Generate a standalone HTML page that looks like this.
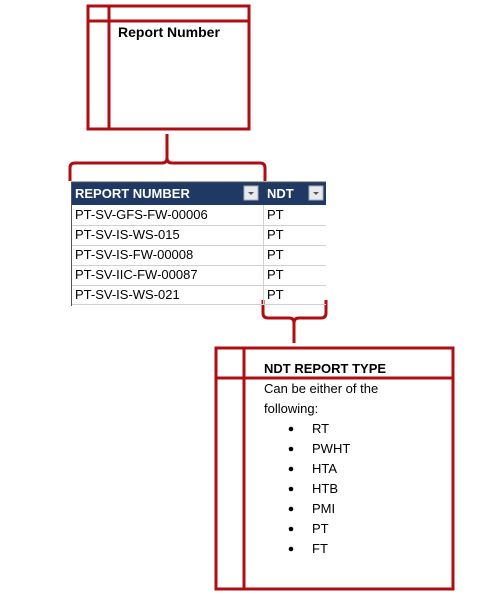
<!DOCTYPE html>
<html><head><style>
body{margin:0;width:498px;height:612px;background:#fff;position:relative;font-family:"Liberation Sans",Calibri,sans-serif;overflow:hidden}
.t{position:absolute;font-size:13px;color:#000;white-space:nowrap}
.b{font-weight:bold}
</style></head><body>
<svg width="498" height="612" style="position:absolute;left:0;top:0">
<g fill="none" stroke="#b00d12" stroke-width="3">
<rect x="88" y="6" width="161" height="123"/>
<line x1="109" y1="6" x2="109" y2="129"/>
<line x1="88" y1="21" x2="249" y2="21"/>
<path d="M70 181 V168 Q70 163 75 163 H162 Q167 163 167 158 V134 M167 158 Q167 163 172 163 H260 Q265 163 265 168 V181"/>
<path d="M263 300 V313 Q263 318 268 318 H289 Q294 318 294 323 V343 M294 323 Q294 318 299 318 H321 Q326 318 326 313 V300"/>
<rect x="216" y="348" width="237" height="241"/>
<line x1="244" y1="348" x2="244" y2="589"/>
<line x1="216" y1="378" x2="453" y2="378"/>
</g>
<rect x="71" y="182" width="255" height="23" fill="#1f3864"/>
<line x1="71" y1="182" x2="326" y2="182" stroke="#555" stroke-width="1"/>
<rect x="244" y="186" width="14" height="14" fill="#e6e9ee" stroke="#aaa"/>
<path d="M248 192 h6 l-3 3z" fill="#555"/>
<rect x="309" y="186" width="14" height="14" fill="#e6e9ee" stroke="#aaa"/>
<path d="M313 192 h6 l-3 3z" fill="#555"/>
<g stroke="#d0d0d0" stroke-width="1">
<line x1="71" y1="225.5" x2="326" y2="225.5"/><line x1="71" y1="245.5" x2="326" y2="245.5"/>
<line x1="71" y1="265.5" x2="326" y2="265.5"/><line x1="71" y1="285.5" x2="326" y2="285.5"/>
<line x1="71" y1="304.5" x2="326" y2="304.5"/>
<line x1="263.5" y1="205" x2="263.5" y2="305"/>
</g>
<line x1="71.5" y1="182" x2="71.5" y2="306" stroke="#555"/>
<g fill="#000"><circle cx="291" cy="429" r="2.3"/><circle cx="291" cy="449" r="2.3"/><circle cx="291" cy="469" r="2.3"/><circle cx="291" cy="489" r="2.3"/><circle cx="291" cy="509" r="2.3"/><circle cx="291" cy="529" r="2.3"/><circle cx="291" cy="549" r="2.3"/></g>
</svg>
<div class="t b" style="left:118px;top:24px;font-size:14px">Report Number</div>
<div class="t b" style="left:75px;top:186px;color:#fff">REPORT NUMBER</div>
<div class="t b" style="left:267px;top:186px;color:#fff">NDT</div>
<div class="t" style="left:75px;top:207px">PT-SV-GFS-FW-00006</div><div class="t" style="left:267px;top:207px">PT</div>
<div class="t" style="left:75px;top:227px">PT-SV-IS-WS-015</div><div class="t" style="left:267px;top:227px">PT</div>
<div class="t" style="left:75px;top:247px">PT-SV-IS-FW-00008</div><div class="t" style="left:267px;top:247px">PT</div>
<div class="t" style="left:75px;top:267px">PT-SV-IIC-FW-00087</div><div class="t" style="left:267px;top:267px">PT</div>
<div class="t" style="left:75px;top:287px">PT-SV-IS-WS-021</div><div class="t" style="left:267px;top:287px">PT</div>
<div class="t b" style="left:264px;top:361px">NDT REPORT TYPE</div>
<div class="t" style="left:264px;top:381px">Can be either of the</div>
<div class="t" style="left:264px;top:401px">following:</div>
<div class="t" style="left:312px;top:421px">RT</div>
<div class="t" style="left:312px;top:441px">PWHT</div>
<div class="t" style="left:312px;top:461px">HTA</div>
<div class="t" style="left:312px;top:481px">HTB</div>
<div class="t" style="left:312px;top:501px">PMI</div>
<div class="t" style="left:312px;top:521px">PT</div>
<div class="t" style="left:312px;top:541px">FT</div>
</body></html>
